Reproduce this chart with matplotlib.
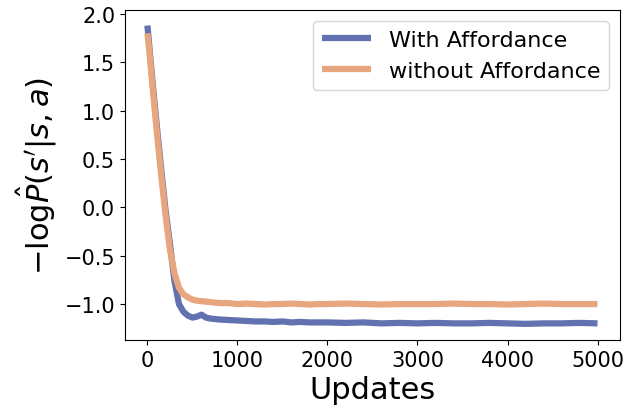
import matplotlib
matplotlib.use('Agg')
import matplotlib.pyplot as plt

# 训练曲线数据
updates = [0, 25, 50, 75, 100, 150, 200, 250, 300, 350, 400, 450, 500, 550,
           600, 650, 700, 800, 900, 1000, 1100, 1200, 1300, 1400, 1500, 1600,
           1700, 1800, 1900, 2000, 2200, 2400, 2600, 2800, 3000, 3200, 3400,
           3600, 3800, 4000, 4200, 4400, 4600, 4800, 5000]

with_aff = [1.88, 1.62, 1.37, 1.12, 0.88, 0.42, -0.02, -0.38, -0.76, -1.00,
            -1.08, -1.12, -1.14, -1.13, -1.11, -1.14, -1.15, -1.16, -1.165,
            -1.17, -1.175, -1.18, -1.18, -1.185, -1.18, -1.19, -1.185, -1.19,
            -1.19, -1.19, -1.195, -1.19, -1.2, -1.195, -1.2, -1.195, -1.2,
            -1.2, -1.195, -1.2, -1.205, -1.2, -1.2, -1.195, -1.2]

without_aff = [1.80, 1.58, 1.32, 1.07, 0.82, 0.36, -0.07, -0.44, -0.68,
               -0.83, -0.90, -0.93, -0.955, -0.965, -0.97, -0.975, -0.98,
               -0.99, -0.99, -1.0, -0.995, -1.0, -1.005, -1.0, -1.0, -0.995,
               -1.0, -1.005, -1.0, -1.0, -0.995, -1.0, -1.005, -1.0, -1.0,
               -1.0, -0.995, -1.0, -1.0, -1.005, -1.0, -0.995, -1.0, -1.0,
               -1.0]

c_with = '#6272b1'
c_without = '#e8a67e'

fig = plt.figure(figsize=(6.31, 4.14), dpi=100)
ax = fig.add_subplot(111)
fig.subplots_adjust(left=0.198, right=0.9826, top=0.9734, bottom=0.1763)

ax.plot(updates, with_aff, color=c_with, lw=4.5, label='With Affordance',
        solid_capstyle='butt')
ax.plot(updates, without_aff, color=c_without, lw=4.5,
        label='without Affordance', solid_capstyle='butt')

ax.set_xlim(-250, 5250)
ax.set_ylim(-1.372, 2.041)
ax.set_xticks([0, 1000, 2000, 3000, 4000, 5000])
ax.set_yticks([-1.0, -0.5, 0.0, 0.5, 1.0, 1.5, 2.0])
ax.tick_params(labelsize=15)
ax.set_xlabel('Updates', fontsize=22)
ax.set_ylabel(r'$-\mathrm{log}\hat{P}(s^{\prime}|s,a)$', fontsize=22)
ax.legend(loc='upper right', fontsize=16, handlelength=2.2)

fig.savefig('out.png', dpi=100)
